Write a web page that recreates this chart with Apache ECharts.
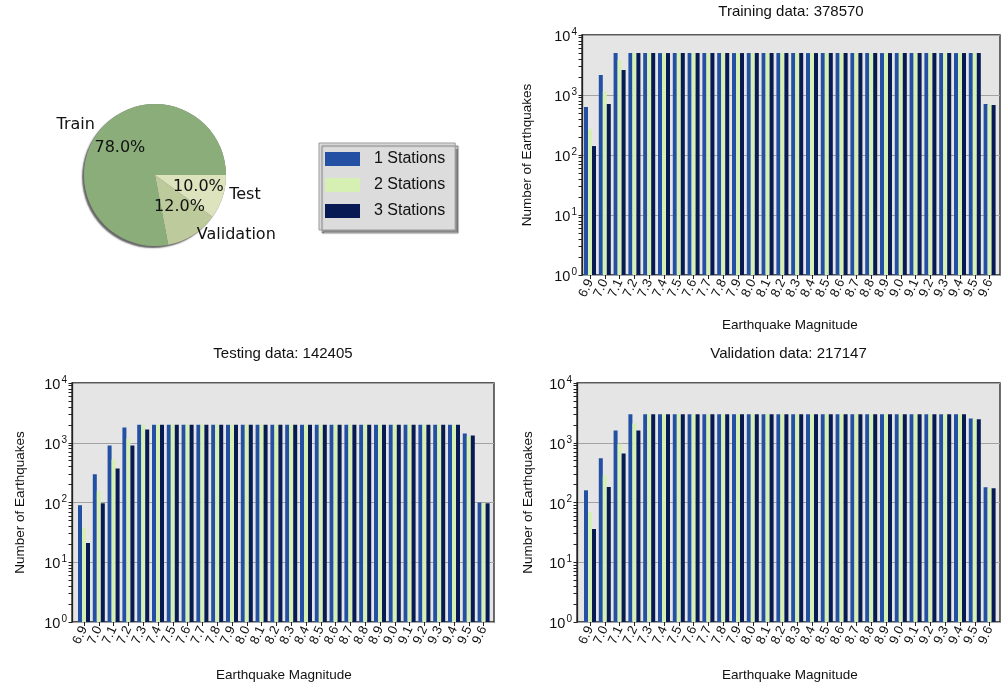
<!DOCTYPE html>
<html><head><meta charset="utf-8">
<script src="https://cdn.jsdelivr.net/npm/echarts@6/dist/echarts.min.js"></script>
<style>html,body{margin:0;padding:0;background:#fff}#c{width:1002px;height:691px}</style>
</head><body><div id="c"></div>
<script>
// ---------- data ----------
const categories = ['6.9','7.0','7.1','7.2','7.3','7.4','7.5','7.6','7.7','7.8','7.9','8.0','8.1','8.2',
  '8.3','8.4','8.5','8.6','8.7','8.8','8.9','9.0','9.1','9.2','9.3','9.4','9.5','9.6'];
const stationNames = ['1 Stations','2 Stations','3 Stations'];

const trainOne   = [631,2154,5000,5000,5000,5000,5000,5000,5000,5000,5000,5000,5000,5000,5000,5000,5000,5000,5000,5000,5000,5000,5000,5000,5000,5000,5000,710];
const trainTwo   = [271,1135,3831,5000,5000,5000,5000,5000,5000,5000,5000,5000,5000,5000,5000,5000,5000,5000,5000,5000,5000,5000,5000,5000,5000,5000,5000,690];
const trainThree = [141,708,2610,5000,5000,5000,5000,5000,5000,5000,5000,5000,5000,5000,5000,5000,5000,5000,5000,5000,5000,5000,5000,5000,5000,5000,5000,680];

const testOne   = [90,297,902,1800,2000,2000,2000,2000,2000,2000,2000,2000,2000,2000,2000,2000,2000,2000,2000,2000,2000,2000,2000,2000,2000,2000,1430,100];
const testTwo   = [38,154,526,1180,2000,2000,2000,2000,2000,2000,2000,2000,2000,2000,2000,2000,2000,2000,2000,2000,2000,2000,2000,2000,2000,2000,1310,98];
const testThree = [21,97,372,902,1666,2000,2000,2000,2000,2000,2000,2000,2000,2000,2000,2000,2000,2000,2000,2000,2000,2000,2000,2000,2000,2000,1325,97];

const valOne   = [160,548,1603,3000,3000,3000,3000,3000,3000,3000,3000,3000,3000,3000,3000,3000,3000,3000,3000,3000,3000,3000,3000,3000,3000,3000,2540,180];
const valTwo   = [70,282,962,2100,3000,3000,3000,3000,3000,3000,3000,3000,3000,3000,3000,3000,3000,3000,3000,3000,3000,3000,3000,3000,3000,3000,2480,173];
const valThree = [36,182,663,1603,3000,3000,3000,3000,3000,3000,3000,3000,3000,3000,3000,3000,3000,3000,3000,3000,3000,3000,3000,3000,3000,3000,2480,173];

const splitNames  = ['Train','Validation','Test'];
const splitValues = [78,12,10];

const yTickValues = [1,2,3,4,5,6,7,8,9,10,20,30,40,50,60,70,80,90,100,200,300,400,500,600,700,800,900,
  1000,2000,3000,4000,5000,6000,7000,8000,9000,10000];

// ---------- styling ----------
const FONT = 'Liberation Sans';
const barColors = ['#2350a3','#d6efb3','#071a54'];
const pieColors = ['#8aad7a','#bdca9b','#dce3bd'];

const panels = [
  {title:'Training data: 378570', data:[trainOne,trainTwo,trainThree],
   outer:{l:582,t:35,r:1000,b:275}, inner:{l:582.6,r:997}, titleTop:4, yGap:48, xGap:43},
  {title:'Testing data: 142405', data:[testOne,testTwo,testThree],
   outer:{l:72,t:383,r:494,b:622}, inner:{l:76.6,r:491}, titleTop:346, yGap:45, xGap:46},
  {title:'Validation data: 217147', data:[valOne,valTwo,valThree],
   outer:{l:577,t:383,r:1000,b:622}, inner:{l:582.6,r:997}, titleTop:346, yGap:42, xGap:46}
];

const grid = [], xAxis = [], yAxis = [], series = [], title = [];
panels.forEach((p, i) => {
  const o = p.outer, n = p.inner;
  const gOuter = grid.length;
  grid.push({left:o.l, top:o.t, width:o.r-o.l, height:o.b-o.t, show:true,
    backgroundColor:'#e5e5e5', borderColor:'#222', borderWidth:1.3});
  const gInner = grid.length;
  grid.push({left:n.l, top:o.t, width:n.r-n.l, height:o.b-o.t});

  xAxis.push({type:'value', gridIndex:gOuter, show:false});
  const xInner = xAxis.length;
  xAxis.push({type:'category', gridIndex:gInner, data:categories,
    axisLine:{show:false},
    axisTick:{show:true, alignWithLabel:true, length:4, lineStyle:{color:'#222'}},
    axisLabel:{interval:0, rotate:65, margin:5, fontFamily:FONT, fontSize:13, color:'#111'},
    name:'Earthquake Magnitude', nameLocation:'middle', nameGap:p.xGap,
    nameTextStyle:{fontFamily:FONT, fontSize:13.5, color:'#111'}});

  // main log axis: labels, line, major grid lines
  yAxis.push({type:'log', logBase:10, gridIndex:gOuter, min:1, max:10000,
    axisLine:{show:true, lineStyle:{color:'#222', width:1.3}},
    axisTick:{show:false},
    axisLabel:{margin:5, color:'#111',
      formatter: v => '{b|10}{s|' + Math.round(Math.log10(v)) + '}',
      rich:{b:{fontFamily:FONT, fontSize:14.5, color:'#111', padding:[4,0,0,0]},
            s:{fontFamily:FONT, fontSize:10, color:'#111', padding:[0,0,6,1]}}},
    splitLine:{show:true, lineStyle:{color:'#a3a3a3', width:1}},
    name:'Number of Earthquakes', nameLocation:'middle', nameGap:p.yGap,
    nameTextStyle:{fontFamily:FONT, fontSize:13.5, color:'#111'}});
  // overlay log axis: major + minor tick marks only
  yAxis.push({type:'log', logBase:10, gridIndex:gOuter, min:1, max:10000, position:'left', offset:0,
    axisLine:{show:false}, axisLabel:{show:false}, splitLine:{show:false},
    axisTick:{show:true, length:3.5, customValues:yTickValues, lineStyle:{color:'#222'}}});
  const yInner = yAxis.length;
  yAxis.push({type:'log', logBase:10, gridIndex:gInner, min:1, max:10000, show:false});

  p.data.forEach((d, s) => {
    series.push({type:'bar', name:stationNames[s], xAxisIndex:xInner, yAxisIndex:yInner,
      data:d, barWidth:4, barGap:'0%', itemStyle:{color:barColors[s]}, silent:true});
  });
  title.push({text:p.title, left:(o.l+o.r)/2, top:p.titleTop, textAlign:'center', padding:0,
    textStyle:{fontFamily:FONT, fontSize:15, fontWeight:'normal', color:'#111'}});
});

// pie: shadow layer, coloured wedges with outer names, and percentage labels
series.push({type:'pie', center:[155,175], radius:71, startAngle:0, clockwise:false, z:1,
  silent:true, animation:false,
  itemStyle:{color:'#7a7a7a', shadowBlur:1.5, shadowColor:'rgba(0,0,0,0.6)', shadowOffsetX:-2, shadowOffsetY:2},
  label:{show:false}, labelLine:{show:false},
  data:splitNames.map((nm, k) => ({name:nm, value:splitValues[k]}))});
series.push({type:'pie', center:[155,175], radius:71, startAngle:0, clockwise:false, z:3,
  avoidLabelOverlap:false, silent:true, animation:false,
  label:{show:true, position:'outside', formatter:'{b}', fontFamily:'DejaVu Sans', fontSize:16,
    color:'#111', distanceToLabelLine:0, alignTo:'none'},
  labelLine:{show:false, length:7, length2:0},
  labelLayout: q => ({dy: [0,-6,-4][q.dataIndex]}),
  data:splitNames.map((nm, k) => ({name:nm, value:splitValues[k], itemStyle:{color:pieColors[k]}}))});
series.push({type:'pie', center:[155,175], radius:85.2, startAngle:0, clockwise:false, z:5,
  avoidLabelOverlap:false, silent:true, animation:false,
  itemStyle:{color:'rgba(0,0,0,0)'},
  label:{show:true, position:'inside', fontFamily:'DejaVu Sans', fontSize:16, color:'#111',
    formatter: q => q.percent.toFixed(1) + '%'},
  labelLine:{show:false},
  labelLayout: q => ({dy: [2,-7,-2][q.dataIndex]}),
  percentPrecision:1,
  data:splitNames.map((nm, k) => ({name:nm, value:splitValues[k]}))});

const option = {
  animation:false,
  backgroundColor:'#ffffff',
  title:title,
  legend:{data:stationNames, orient:'vertical', left:319, top:143, icon:'rect',
    itemWidth:35, itemHeight:14, itemGap:10, padding:[8,10,11,6], selectedMode:false,
    backgroundColor:'#dcdcdc', borderColor:'#9a9a9a', borderWidth:1,
    shadowColor:'rgba(0,0,0,0.45)', shadowBlur:1, shadowOffsetX:3, shadowOffsetY:3,
    textStyle:{fontFamily:FONT, fontSize:16, color:'#111', padding:[0,0,0,9]}},
  grid:grid, xAxis:xAxis, yAxis:yAxis, series:series
};
const chart = echarts.init(document.getElementById('c'));
chart.setOption(option);
</script></body></html>
